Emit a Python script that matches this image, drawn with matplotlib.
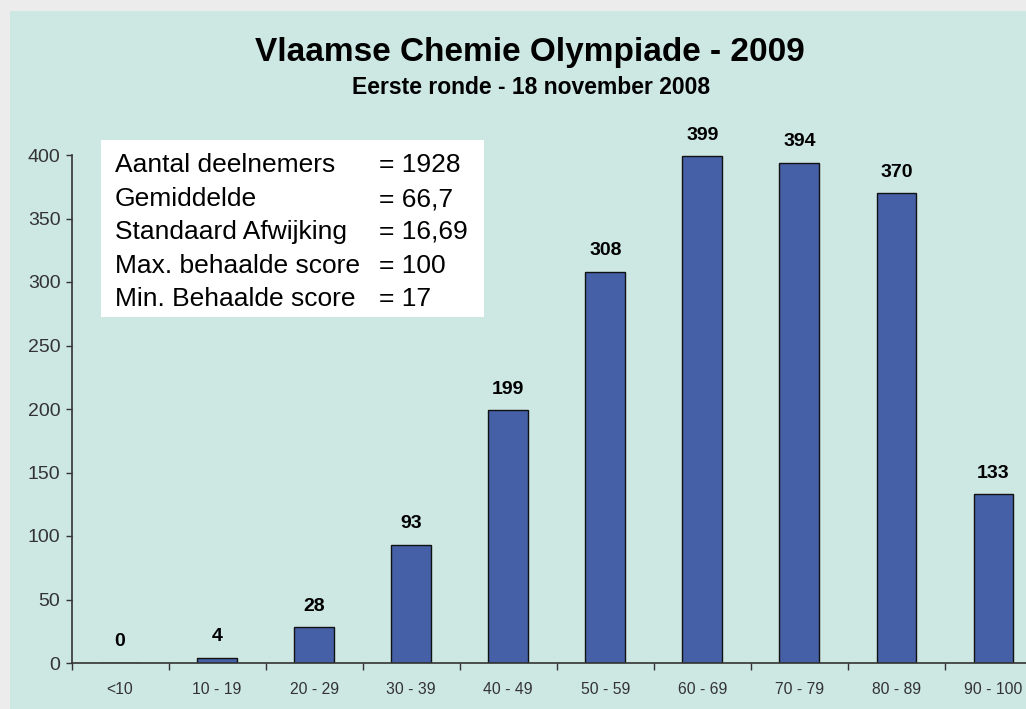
import matplotlib.pyplot as plt
import numpy as np
from matplotlib.patches import Rectangle

# --- DATA ---
categories = ["<10", "10 - 19", "20 - 29", "30 - 39", "40 - 49",
              "50 - 59", "60 - 69", "70 - 79", "80 - 89", "90 - 100"]
counts = [0, 4, 28, 93, 199, 308, 399, 394, 370, 133]

stat_names = ["Aantal deelnemers", "Gemiddelde", "Standaard Afwijking",
              "Max. behaalde score", "Min. Behaalde score"]
stat_values = ["= 1928", "= 66,7", "= 16,69", "= 100", "= 17"]

title = "Vlaamse Chemie Olympiade - 2009"
subtitle = "Eerste ronde - 18 november 2008"

# --- STYLE ---
plt.rcParams["font.family"] = ["Liberation Sans", "DejaVu Sans"]
bg_outer = "#EBECEB"
bg_panel = "#CDE7E2"
bar_color = "#4560A6"
axis_color = "#333333"

W, H = 1026, 709
fig = plt.figure(figsize=(W / 100, H / 100), dpi=100, facecolor=bg_outer)

# teal panel
fig.patches.append(Rectangle((10 / W, 0), 1.0, 1 - 11 / H, transform=fig.transFigure,
                             facecolor=bg_panel, edgecolor="none", zorder=-1))

ax = fig.add_axes([71.5 / W, 46 / H, (1042 - 71.5) / W, (663 - 155) / H])
ax.set_facecolor("none")
ax.set_zorder(1)

x = np.arange(len(categories))
ax.bar(x, counts, width=0.41, color=bar_color, edgecolor="#111111", linewidth=1, zorder=2)

for xi, v in zip(x, counts):
    ax.annotate(str(v), (xi, v), xytext=(0, 9), textcoords="offset points",
                ha="center", va="bottom", fontsize=14, fontweight="bold",
                annotation_clip=False)

ax.set_xlim(-0.5, len(categories) - 0.5)
ax.set_ylim(0, 400)
ax.set_yticks(np.arange(0, 401, 50))
ax.tick_params(axis="y", direction="out", length=4, width=1, pad=4,
               labelsize=14, labelcolor=axis_color, color=axis_color)

# boundary ticks (major), labels at category centres (minor)
ax.set_xticks(np.arange(-0.5, len(categories) - 0.4, 1.0))
ax.set_xticklabels([])
ax.set_xticks(x, minor=True)
ax.set_xticklabels(categories, minor=True)
ax.tick_params(axis="x", which="major", direction="out", length=5, width=1, color=axis_color)
ax.tick_params(axis="x", which="minor", length=0, pad=14, labelsize=11.3,
               labelcolor=axis_color)

for s in ["top", "right"]:
    ax.spines[s].set_visible(False)
for s in ["left", "bottom"]:
    ax.spines[s].set_linewidth(1.2)
    ax.spines[s].set_color(axis_color)

# titles
fig.text(530 / W, 1 - 52 / H, title, ha="center", va="center",
         fontsize=24, fontweight="bold")
fig.text(531 / W, 1 - 88 / H, subtitle, ha="center", va="center",
         fontsize=16.5, fontweight="bold")

# stats box
fig.patches.append(Rectangle((101 / W, 1 - 317 / H), (484 - 101) / W, (317 - 140) / H,
                             transform=fig.transFigure, facecolor="white",
                             edgecolor="none", zorder=3))
line_y = [172, 206, 239, 273, 306]
for name, val, yy in zip(stat_names, stat_values, line_y):
    fig.text(115 / W, 1 - yy / H, name, ha="left", va="baseline", fontsize=19, zorder=4)
    fig.text(379 / W, 1 - yy / H, val, ha="left", va="baseline", fontsize=19, zorder=4)

fig.savefig("out.png", dpi=100, facecolor=fig.get_facecolor())
